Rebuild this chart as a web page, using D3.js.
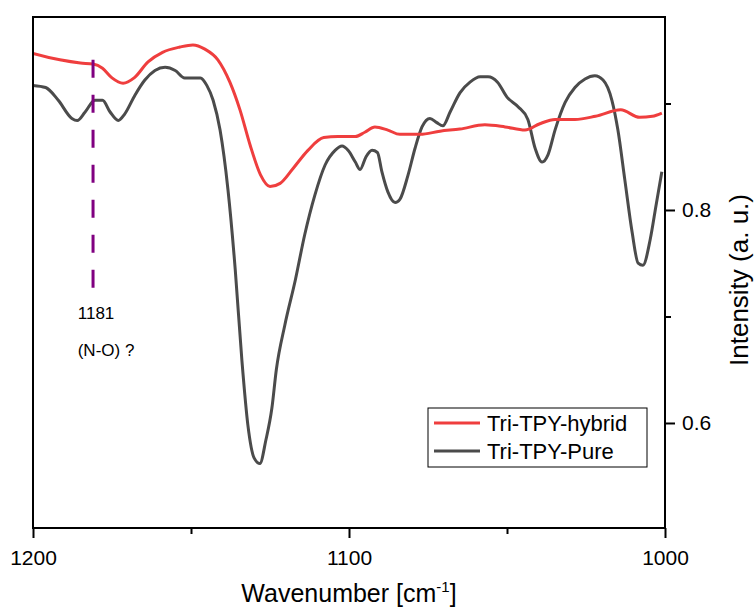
<!DOCTYPE html>
<html><head><meta charset="utf-8">
<script src="https://cdn.jsdelivr.net/npm/d3@7"></script>
<style>
html,body{margin:0;padding:0;background:#fff;}
text{font-family:Arial,"Liberation Sans",sans-serif;}
</style></head>
<body><svg id="c" width="756" height="609"></svg>
<script>
// ---- data ----
const hybridWn = [1200,1191.5,1185,1181,1178,1175,1171.5,1168,1163.6,1159,1153.5,1149.4,1145.6,1141.5,1137.7,1134.5,1131.3,1128,1125,1121.8,1117.7,1113,1108,1103.5,1098,1095,1091.8,1087.7,1083.9,1077.5,1071.2,1064.9,1057,1050.6,1044.3,1039.6,1034.8,1028.5,1022,1014,1008,1004,1001];
const hybridVal = [0.947,0.941,0.938,0.937,0.933,0.924,0.919,0.924,0.939,0.948,0.953,0.955,0.951,0.941,0.920,0.894,0.861,0.833,0.822,0.825,0.839,0.856,0.868,0.869,0.869,0.873,0.878,0.875,0.871,0.871,0.874,0.876,0.880,0.878,0.875,0.881,0.885,0.885,0.888,0.894,0.887,0.888,0.891];
const pureWn = [1200,1196,1192,1187.7,1186,1183.5,1180.4,1178,1175.6,1173,1171,1167.7,1164.6,1161.4,1158.2,1155,1152,1149.4,1147,1145,1143,1140.8,1138.3,1136,1133.9,1132,1130,1128.2,1126.3,1124.4,1123,1120.3,1117,1114,1110.8,1107.6,1104.4,1102.2,1100.3,1098,1096.5,1094.6,1092.7,1091,1089.6,1087.7,1085.4,1083.9,1081.3,1079.1,1076.9,1074.4,1072.2,1070.3,1068,1064.9,1061.7,1058.5,1056,1053,1050,1046.5,1043.4,1041.1,1038.9,1037,1034.8,1031.6,1028.5,1025.3,1022.2,1019.6,1016.8,1014.9,1012.7,1010.4,1008.5,1007,1004.7,1002.8,1001];
const pureVal = [0.917,0.915,0.903,0.886,0.884,0.892,0.903,0.903,0.892,0.884,0.890,0.908,0.922,0.931,0.934,0.931,0.924,0.924,0.924,0.917,0.903,0.875,0.819,0.744,0.659,0.598,0.567,0.562,0.584,0.614,0.650,0.692,0.734,0.777,0.814,0.842,0.856,0.860,0.856,0.845,0.838,0.850,0.856,0.854,0.836,0.817,0.807,0.810,0.833,0.858,0.878,0.886,0.882,0.879,0.892,0.910,0.920,0.925,0.925,0.920,0.906,0.897,0.885,0.858,0.845,0.852,0.875,0.901,0.915,0.923,0.926,0.922,0.903,0.875,0.828,0.779,0.750,0.748,0.772,0.805,0.836];
const seriesNames = ["Tri-TPY-hybrid","Tri-TPY-Pure"];
const xTicks = [1200,1100,1000];
const xMinorTicks = [1150,1050];
const yTicks = [0.6,0.8];
const yMinorTicks = [0.7,0.9];
const markerWn = 1181;
const markerRange = [0.727,0.941];
const markerLabels = ["1181","(N-O) ?"];

// ---- layout ----
const svg = d3.select("#c");
const L=33, R=665, T=17, B=528;
const x = d3.scaleLinear().domain([1200,1000]).range([L,R]);
const y = d3.scaleLinear().domain([0.5014,0.9812]).range([B,T]);
const colors = ["#ef3e3e","#4b4b4b"];

const line = d3.line().x(d=>x(d[0])).y(d=>y(d[1])).curve(d3.curveMonotoneX);
const hyb = hybridWn.map((w,i)=>[w,hybridVal[i]]);
const pur = pureWn.map((w,i)=>[w,pureVal[i]]);

svg.append("clipPath").attr("id","pc").append("rect").attr("x",L).attr("y",T).attr("width",R-L).attr("height",B-T);
const g = svg.append("g").attr("clip-path","url(#pc)");
g.append("path").datum(pur).attr("d",line).attr("fill","none").attr("stroke",colors[1]).attr("stroke-width",3).attr("stroke-linejoin","round");
g.append("path").datum(hyb).attr("d",line).attr("fill","none").attr("stroke",colors[0]).attr("stroke-width",3).attr("stroke-linejoin","round");

// marker
svg.append("line").attr("x1",x(markerWn)).attr("x2",x(markerWn)).attr("y1",y(markerRange[1])).attr("y2",y(markerRange[0]))
  .attr("stroke","#800080").attr("stroke-width",3).attr("stroke-dasharray","18,17");
svg.append("text").attr("x",x(markerWn)+3).attr("y",319).attr("text-anchor","middle").attr("font-size",17).text(markerLabels[0]);
svg.append("text").attr("x",x(markerWn)+13).attr("y",356).attr("text-anchor","middle").attr("font-size",17).text(markerLabels[1]);

// frame
svg.append("rect").attr("x",L).attr("y",T).attr("width",R-L).attr("height",B-T).attr("fill","none").attr("stroke","#000").attr("stroke-width",2);

// x axis
const xa = svg.append("g").attr("transform",`translate(0,${B})`)
  .call(d3.axisBottom(x).tickValues(xTicks).tickSize(10).tickPadding(12).tickFormat(d3.format("d")));
xa.select(".domain").remove();
xa.selectAll("line").attr("stroke-width",2);
xa.selectAll("text").attr("font-size",21).attr("font-family","Arial, Liberation Sans, sans-serif");
const xm = svg.append("g").attr("transform",`translate(0,${B})`).call(d3.axisBottom(x).tickValues(xMinorTicks).tickSize(6).tickFormat(""));
xm.select(".domain").remove(); xm.selectAll("line").attr("stroke-width",2);

// y axis right
const ya = svg.append("g").attr("transform",`translate(${R},0)`)
  .call(d3.axisRight(y).tickValues(yTicks).tickSize(10).tickPadding(7).tickFormat(d3.format(".1f")));
ya.select(".domain").remove();
ya.selectAll("line").attr("stroke-width",2);
ya.selectAll("text").attr("font-size",21).attr("font-family","Arial, Liberation Sans, sans-serif");
const ym = svg.append("g").attr("transform",`translate(${R},0)`).call(d3.axisRight(y).tickValues(yMinorTicks).tickSize(6).tickFormat(""));
ym.select(".domain").remove(); ym.selectAll("line").attr("stroke-width",2);

// axis titles
const xt = svg.append("text").attr("x",(L+R)/2).attr("y",602).attr("text-anchor","middle").attr("font-size",25);
xt.append("tspan").text("Wavenumber [cm");
xt.append("tspan").attr("font-size",15).attr("dy",-10).text("-1");
xt.append("tspan").attr("dy",10).text("]");
svg.append("text").attr("transform","translate(748,280) rotate(-90)").attr("text-anchor","middle").attr("font-size",26).text("Intensity (a. u.)");

// legend
const lg = svg.append("g");
lg.append("rect").attr("x",428).attr("y",408).attr("width",219).attr("height",59).attr("fill","#fff").attr("stroke","#000").attr("stroke-width",1);
seriesNames.forEach((n,i)=>{
  const yy = 423 + i*28;
  lg.append("line").attr("x1",434).attr("x2",480).attr("y1",yy).attr("y2",yy).attr("stroke",colors[i]).attr("stroke-width",3);
  lg.append("text").attr("x",487).attr("y",yy+8).attr("font-size",22).text(n);
});
</script></body></html>
